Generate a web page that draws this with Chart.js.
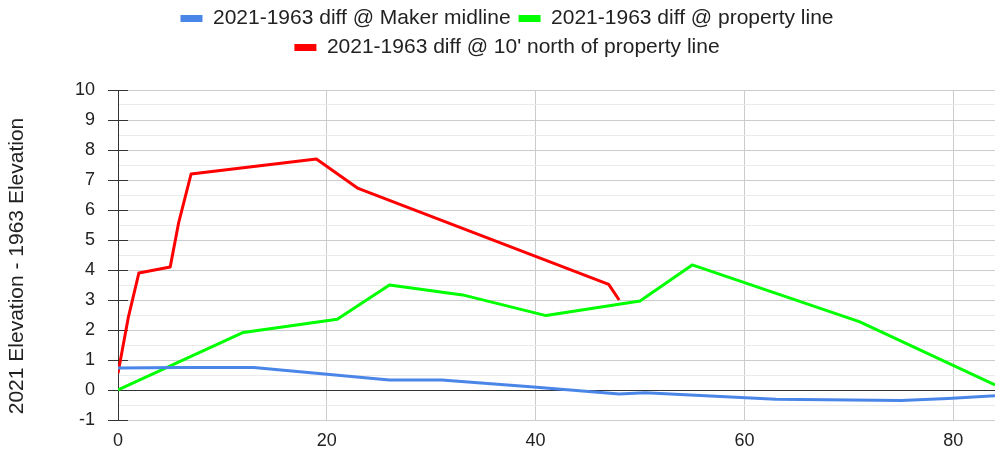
<!DOCTYPE html>
<html>
<head>
<meta charset="utf-8">
<script src="https://cdn.jsdelivr.net/npm/chart.js@4.4.1/dist/chart.umd.min.js"></script>
<style>
  html, body { margin: 0; padding: 0; background: #fff; }
  #wrap { width: 995px; height: 454px; position: relative; }
</style>
</head>
<body>
<div id="wrap"><canvas id="c"></canvas></div>
<script>
// ---- data ----
const seriesNames = [
  "2021-1963 diff @ Maker midline",
  "2021-1963 diff @ property line",
  "2021-1963 diff @ 10' north of property line"
];
const blueX = [0, 6, 13, 26, 31, 39.5, 48, 50.5, 63, 75, 79.5, 84];
const blueY = [0.73, 0.75, 0.75, 0.33, 0.33, 0.11, -0.13, -0.09, -0.31, -0.35, -0.28, -0.19];
const greenX = [0, 12, 21, 26, 33, 41, 50, 55, 71, 84];
const greenY = [0, 1.92, 2.36, 3.5, 3.17, 2.48, 2.97, 4.17, 2.28, 0.17];
const redX = [0, 1, 2, 5, 5.8, 7, 19, 23, 47, 48];
const redY = [0.56, 2.44, 3.9, 4.1, 5.56, 7.2, 7.7, 6.72, 3.52, 3.0];
const xTicks = [0, 20, 40, 60, 80];
const yMin = -1, yMax = 10;
const yAxisTitle = "2021 Elevation - 1963 Elevation";

const colors = ['#4a86e8', '#00ff00', '#ff0000'];
const FONT = "'Liberation Sans', Arial, sans-serif";

function pts(xs, ys) { return xs.map((x, i) => ({ x: x, y: ys[i] })); }

const innerTicks = {
  id: 'innerTicks',
  beforeDatasetsDraw(chart) {
    const y = chart.scales.y, ctx = chart.ctx, left = chart.chartArea.left;
    ctx.save();
    ctx.strokeStyle = '#333';
    ctx.lineWidth = 1;
    y.ticks.forEach(t => {
      if (Number.isInteger(t.value)) {
        const py = Math.round(y.getPixelForValue(t.value)) + 0.5;
        ctx.beginPath();
        ctx.moveTo(left, py);
        ctx.lineTo(left + 10, py);
        ctx.stroke();
      }
    });
    ctx.restore();
  }
};

const layoutTweak = {
  id: 'layoutTweak',
  beforeLayout(chart) {
    const lg = chart.legend;
    if (lg && !lg._tweaked) {
      const origFit = lg.fit.bind(lg);
      lg.fit = function () { origFit(); this.height += 22; };
      lg._tweaked = true;
    }
  },
  afterLayout(chart) {
    chart.legend.left += 7;
    chart.legend.right += 7;
    const ys = chart.scales.y;
    if (ys && !ys._titleShifted) {
      const origDrawTitle = ys.drawTitle.bind(ys);
      ys.drawTitle = function () {
        const ctx = this.ctx;
        ctx.save();
        ctx.translate(0, 11);
        origDrawTitle();
        ctx.restore();
      };
      ys._titleShifted = true;
    }
  }
};

new Chart(document.getElementById('c'), {
  type: 'line',
  data: {
    datasets: [
      { label: seriesNames[0], data: pts(blueX, blueY), borderColor: colors[0], backgroundColor: colors[0] },
      { label: seriesNames[1], data: pts(greenX, greenY), borderColor: colors[1], backgroundColor: colors[1] },
      { label: seriesNames[2], data: pts(redX, redY), borderColor: colors[2], backgroundColor: colors[2] }
    ]
  },
  plugins: [innerTicks, layoutTweak],
  options: {
    responsive: true,
    maintainAspectRatio: false,
    animation: false,
    devicePixelRatio: 1,
    layout: { padding: { left: 5, right: 0, top: 0, bottom: 0 } },
    elements: {
      line: { borderWidth: 3, tension: 0, borderCapStyle: 'butt', borderJoinStyle: 'round' },
      point: { radius: 0, hoverRadius: 0 }
    },
    plugins: {
      tooltip: { enabled: false },
      legend: {
        position: 'top',
        align: 'center',
        labels: {
          boxWidth: 22,
          boxHeight: 7,
          padding: 8,
          color: '#222',
          font: { family: FONT, size: 21 },
          generateLabels: (chart) => Chart.defaults.plugins.legend.labels.generateLabels(chart)
            .map(l => Object.assign(l, { lineWidth: 0 }))
        }
      }
    },
    scales: {
      x: {
        type: 'linear',
        min: 0,
        max: 84,
        afterBuildTicks: s => { s.ticks = xTicks.map(v => ({ value: v })); },
        afterFit: s => { s.height = 34; },
        border: { display: false },
        grid: {
          drawTicks: false,
          color: ctx => (ctx.tick && ctx.tick.value === 0) ? 'rgba(0,0,0,0)' : '#cccccc',
          lineWidth: 1
        },
        ticks: {
          color: '#222',
          padding: 10,
          maxRotation: 0,
          font: { family: FONT, size: 18 }
        }
      },
      y: {
        type: 'linear',
        min: yMin,
        max: yMax,
        afterFit: s => { s.width = 113; },
        border: { display: true, color: '#333', width: 1 },
        grid: {
          color: ctx => {
            const v = ctx.tick ? ctx.tick.value : null;
            if (v === 0) return '#333';
            return Number.isInteger(v) ? '#cccccc' : '#ebebeb';
          },
          tickColor: ctx => (ctx.tick && Number.isInteger(ctx.tick.value)) ? '#333' : 'rgba(0,0,0,0)',
          tickLength: 10,
          lineWidth: 1
        },
        ticks: {
          stepSize: 0.5,
          maxTicksLimit: 40,
          autoSkip: false,
          color: '#222',
          padding: 13,
          font: { family: FONT, size: 18 },
          callback: v => Number.isInteger(v) ? String(v) : ''
        },
        title: {
          display: true,
          text: yAxisTitle,
          color: '#222',
          padding: { top: 0, bottom: 0 },
          font: { family: FONT, size: 21 }
        }
      }
    }
  }
});
</script>
</body>
</html>
